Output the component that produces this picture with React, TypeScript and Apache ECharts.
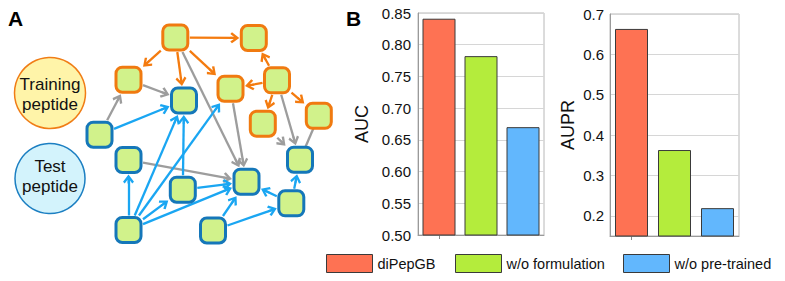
import React, { useEffect, useRef } from "react";
import * as echarts from "echarts";

// ---------- Panel B data ----------
const categories = ["diPepGB", "w/o formulation", "w/o pre-trained"];
const aucValues = [0.841, 0.782, 0.67];
const auprValues = [0.663, 0.363, 0.219];
const barColors = ["#fe7253", "#b4ec3c", "#62b7fd"];

// ---------- Panel A data (network) ----------
const nodeIds = ["O1", "O2", "O3", "O4", "O5", "O6", "O7", "B1", "B2", "B3", "B4", "B5", "B6", "B7", "B8", "B9"];
const nodeX = [175.3, 253.8, 128.5, 230.5, 277, 262.8, 318.8, 184, 99.5, 128.5, 300, 182.8, 246.5, 291.3, 128.5, 213];
const nodeY = [37.5, 38, 79.7, 88.7, 80.3, 123.7, 115.8, 100.5, 134.7, 160, 159.7, 189.7, 181.7, 203.3, 230, 230.5];
const nodeKind = ["train", "train", "train", "train", "train", "train", "train", "test", "test", "test", "test", "test", "test", "test", "test", "test"];

const orangeEdges = [["O1", "O2"], ["O1", "O3"], ["O1", "B1"], ["O1", "O4"], ["O5", "O2"], ["O5", "O4"], ["O5", "O6"], ["O5", "O7"]];
const grayEdges = [["O3", "B1"], ["B2", "O3"], ["O1", "B6"], ["O4", "B6"], ["B3", "B6"], ["O6", "B4"], ["O5", "B4"]];
const grayPlainEdges = [["O7", "B4"]];
const blueEdges = [["B2", "B1"], ["B8", "B3"], ["B8", "B1"], ["B8", "O4"], ["B8", "B5"], ["B8", "B6"], ["B5", "B1"], ["B5", "B6"], ["B9", "B6"], ["B9", "B7"], ["B7", "B6"], ["B7", "B4"]];

const FONT = "'Liberation Sans', Arial, Helvetica, sans-serif";
const NODE_HALF = 14.5;
const ARROW_W = 11;
const ARROW_L = 9;
const ARROW_PATH = "path://M5,0L10,7L8.4,8.6L5.9,4.9L5.9,8.6L4.1,8.6L4.1,4.9L1.6,8.6L0,7Z";

function edgeCoords(a: string, b: string, arrow: boolean) {
  const s = nodeIds.indexOf(a);
  const t = nodeIds.indexOf(b);
  const sx = nodeX[s], sy = nodeY[s], tx = nodeX[t], ty = nodeY[t];
  const dx = tx - sx, dy = ty - sy;
  const m = Math.max(Math.abs(dx), Math.abs(dy));
  const len = Math.hypot(dx, dy);
  const ux = dx / len, uy = dy / len;
  const f = NODE_HALF / m;
  const start = [sx + dx * f, sy + dy * f];
  if (!arrow) return { coords: [[sx, sy], [tx, ty]] };
  const endB = [tx - dx * f, ty - dy * f];
  const end = [endB[0] - (ux * ARROW_L) / 2, endB[1] - (uy * ARROW_L) / 2];
  return { coords: [start, end] };
}

function edgeSeries(edges: string[][], color: string, arrow: boolean) {
  return {
    type: "lines",
    coordinateSystem: "cartesian2d",
    xAxisIndex: 2,
    yAxisIndex: 2,
    silent: true,
    z: 1,
    symbol: arrow ? ["none", ARROW_PATH] : ["none", "none"],
    symbolSize: [0, [ARROW_W, ARROW_L]],
    lineStyle: { color, width: 2.3, opacity: 1, curveness: 0 },
    data: edges.map(([a, b]) => edgeCoords(a, b, arrow)),
  };
}

function nodeSeries(kind: string, border: string) {
  const data: number[][] = [];
  nodeIds.forEach((_, i) => {
    if (nodeKind[i] === kind) data.push([nodeX[i], nodeY[i]]);
  });
  return {
    type: "scatter",
    xAxisIndex: 2,
    yAxisIndex: 2,
    silent: true,
    z: 3,
    symbol: "roundRect",
    symbolSize: 25,
    itemStyle: { color: "#d1f28b", borderColor: border, borderWidth: 3, opacity: 1 },
    data,
  };
}

function barSeries(values: number[], gridIndex: number) {
  return categories.map((name, i) => ({
    type: "bar",
    name,
    xAxisIndex: gridIndex,
    yAxisIndex: gridIndex,
    barWidth: 33,
    barGap: "-100%",
    itemStyle: { color: barColors[i], borderColor: "#3a3a3a", borderWidth: 1 },
    data: values.map((v, j) => (j === i ? v : "-")),
  }));
}

const catAxis = (gridIndex: number) => ({
  type: "category",
  gridIndex,
  data: categories,
  axisLabel: { show: false },
  axisLine: { show: true, lineStyle: { color: "#9a9a9a", width: 1 } },
  axisTick: { show: true, alignWithLabel: true, length: 4, lineStyle: { color: "#8a8a8a" } },
  splitLine: { show: false },
});

export default function App() {
  const ref = useRef<HTMLDivElement>(null);
  useEffect(() => {
    if (!ref.current) return;
    const chart = echarts.init(ref.current, undefined, { renderer: "svg" });
    const legendItem = (i: number, left: number) => ({
      show: true,
      left,
      top: 254,
      padding: 0,
      itemWidth: 46,
      itemHeight: 18,
      icon: "rect",
      data: [categories[i]],
      selectedMode: false,
      textStyle: { fontSize: 14.5, color: "#111", fontFamily: FONT },
      itemStyle: { borderColor: "#3a3a3a", borderWidth: 1 },
    });
    const option: any = {
      animation: false,
      textStyle: { fontFamily: FONT },
      legend: [legendItem(0, 326), legendItem(1, 455), legendItem(2, 623)],
      grid: [
        { left: 418, top: 13, width: 126, height: 222, show: true, borderColor: "#b8b8b8", borderWidth: 1 },
        { left: 610, top: 14, width: 129, height: 222, show: true, borderColor: "#b8b8b8", borderWidth: 1 },
        { left: 0, top: 0, width: 340, height: 281 },
      ],
      xAxis: [
        catAxis(0),
        catAxis(1),
        { type: "value", gridIndex: 2, min: 0, max: 340, show: false },
      ],
      yAxis: [
        {
          type: "value",
          gridIndex: 0,
          min: 0.5,
          max: 0.85,
          interval: 0.05,
          name: "AUC",
          nameLocation: "middle",
          nameRotate: 90,
          nameGap: 47,
          nameTextStyle: { fontSize: 18, color: "#111", fontFamily: FONT },
          axisLine: { show: true, lineStyle: { color: "#9a9a9a" } },
          axisTick: { show: false },
          axisLabel: { fontSize: 15, color: "#111", margin: 7, fontFamily: FONT, formatter: (v: number) => v.toFixed(2) },
          splitLine: { show: true, lineStyle: { color: "#d6d6d6", width: 1 } },
        },
        {
          type: "value",
          gridIndex: 1,
          min: 0.15,
          max: 0.7,
          interval: 0.05,
          name: "AUPR",
          nameLocation: "middle",
          nameRotate: 90,
          nameGap: 33,
          nameTextStyle: { fontSize: 18, color: "#111", fontFamily: FONT },
          axisLine: { show: true, lineStyle: { color: "#9a9a9a" } },
          axisTick: { show: false },
          axisLabel: {
            fontSize: 15,
            color: "#111",
            margin: 6,
            fontFamily: FONT,
            formatter: (v: number) => {
              const r = Math.round(v * 10) / 10;
              return Math.abs(v - r) < 1e-6 ? r.toFixed(1) : "";
            },
          },
          splitLine: { show: true, lineStyle: { color: ["rgba(0,0,0,0)", "#d6d6d6"], width: 1 } },
        },
        { type: "value", gridIndex: 2, min: 0, max: 281, inverse: true, show: false },
      ],
      series: [
        ...barSeries(aucValues, 0),
        ...barSeries(auprValues, 1),
        edgeSeries(grayPlainEdges, "#9d9d9d", false),
        edgeSeries(grayEdges, "#9d9d9d", true),
        edgeSeries(orangeEdges, "#f47b0f", true),
        edgeSeries(blueEdges, "#1aa6f2", true),
        nodeSeries("train", "#f07a10"),
        nodeSeries("test", "#1577b9"),
      ],
      graphic: [
        { type: "text", left: 8, top: 8, style: { text: "A", font: `bold 21px ${FONT}`, fill: "#000" } },
        { type: "text", left: 346, top: 8, style: { text: "B", font: `bold 21px ${FONT}`, fill: "#000" } },
        { type: "circle", shape: { cx: 50, cy: 93, r: 35.5 }, style: { fill: "#fff4a9", stroke: "#f07d16", lineWidth: 1.5 } },
        { type: "circle", shape: { cx: 50, cy: 178.5, r: 35 }, style: { fill: "#d3f3fc", stroke: "#1c7fc2", lineWidth: 1.5 } },
        {
          type: "text",
          x: 50,
          y: 94,
          style: { text: "Training\npeptide", font: `17px ${FONT}`, fill: "#111", align: "center", verticalAlign: "middle", lineHeight: 20 },
        },
        {
          type: "text",
          x: 50,
          y: 176,
          style: { text: "Test\npeptide", font: `17px ${FONT}`, fill: "#111", align: "center", verticalAlign: "middle", lineHeight: 20 },
        },
      ],
    };
    chart.setOption(option);
    return () => chart.dispose();
  }, []);
  return <div ref={ref} style={{ position: "absolute", left: 0, top: 0, width: 785, height: 281 }} />;
}
